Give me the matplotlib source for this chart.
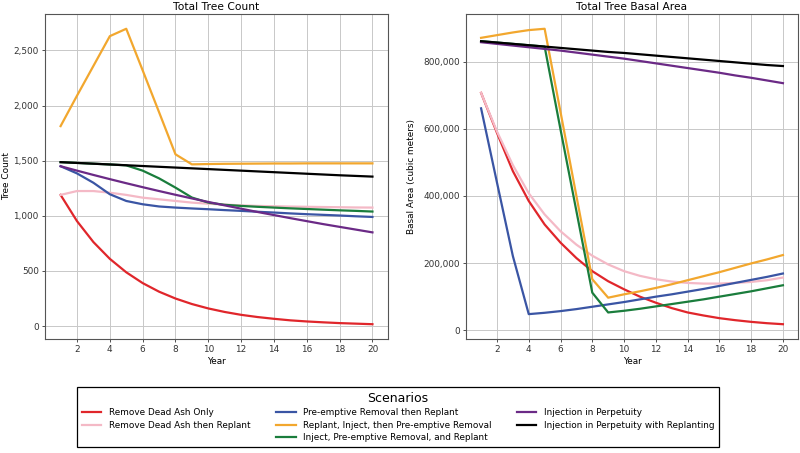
import matplotlib
matplotlib.use('Agg')
import matplotlib.pyplot as plt
from matplotlib.lines import Line2D
from matplotlib.ticker import FuncFormatter

years = list(range(1, 21))

scenarios = ["Remove Dead Ash Only",
             "Remove Dead Ash then Replant",
             "Pre-emptive Removal then Replant",
             "Replant, Inject, then Pre-emptive Removal",
             "Inject, Pre-emptive Removal, and Replant",
             "Injection in Perpetuity",
             "Injection in Perpetuity with Replanting"]
colors = ['#e0262b', '#f4b9c6', '#3a55a4', '#f2a72e', '#1a7d3c', '#6b2a86', '#000000']

# tree counts
count_remove = [1190, 952, 762, 610, 488, 390, 312, 250, 200, 160,
                128, 102, 82, 66, 52, 42, 34, 27, 22, 17]
count_remove_replant = [1190, 1225, 1225, 1210, 1190, 1165, 1150, 1135, 1120, 1110,
                        1102, 1095, 1090, 1087, 1084, 1082, 1080, 1078, 1076, 1075]
count_preempt = [1450, 1385, 1300, 1196, 1135, 1105, 1085, 1075, 1067, 1060,
                 1052, 1045, 1037, 1030, 1022, 1015, 1009, 1003, 996, 990]
count_replant_inject = [1814, 2090, 2360, 2630, 2697, 2320, 1940, 1558, 1467, 1470,
                        1472, 1473, 1474, 1475, 1475, 1476, 1476, 1476, 1476, 1476]
count_inject_preempt = [1487, 1480, 1473, 1466, 1458, 1410, 1340, 1256, 1166, 1120,
                        1100, 1090, 1082, 1075, 1068, 1062, 1056, 1050, 1045, 1039]
count_inject = [1450, 1410, 1371, 1333, 1296, 1260, 1225, 1191, 1158, 1126,
                1095, 1065, 1035, 1007, 979, 952, 925, 900, 875, 850]
count_inject_replant = [1487, 1480, 1473, 1466, 1459, 1452, 1445, 1438, 1431, 1424,
                        1417, 1410, 1403, 1396, 1389, 1382, 1375, 1368, 1362, 1356]

# basal area
ba_remove = [707000, 588000, 474000, 385000, 315000, 261000, 215000, 176000, 146000, 122000,
             100000, 82000, 66000, 53000, 44000, 36000, 30000, 25000, 21000, 18000]
ba_remove_replant = [707000, 592000, 492000, 408000, 345000, 295000, 255000, 222000, 196000, 176000,
                     162000, 152000, 145000, 141000, 139000, 139000, 141000, 144000, 149000, 157000]
ba_preempt = [661000, 440000, 221000, 48000, 52000, 57000, 63000, 70000, 77000, 84000,
              92000, 100000, 107000, 115000, 123000, 132000, 141000, 150000, 159000, 169000]
ba_replant_inject = [871000, 879000, 887000, 894000, 898000, 650000, 400000, 152000, 97000, 107000,
                     116000, 126000, 137000, 149000, 161000, 173000, 186000, 199000, 211000, 224000]
ba_inject_preempt = [861000, 857000, 853000, 849000, 845000, 598000, 355000, 112000, 53000, 58000,
                     64000, 71000, 78000, 85000, 92000, 100000, 108000, 116000, 125000, 134000]
ba_inject = [858000, 853000, 848000, 843000, 838000, 833000, 827000, 821000, 815000, 809000,
             802000, 795000, 788000, 781000, 774000, 767000, 759000, 752000, 744000, 736000]
ba_inject_replant = [861000, 857000, 853000, 849000, 845000, 841000, 837000, 833000, 829000, 826000,
                     822000, 818000, 814000, 810000, 806000, 802000, 798000, 794000, 790000, 787000]

counts = [count_remove, count_remove_replant, count_preempt, count_replant_inject,
          count_inject_preempt, count_inject, count_inject_replant]
basal = [ba_remove, ba_remove_replant, ba_preempt, ba_replant_inject,
         ba_inject_preempt, ba_inject, ba_inject_replant]

fig = plt.figure(figsize=(8, 4.53), dpi=100)
ax1 = fig.add_axes([0.05625, 0.2517, 0.4288, 0.7174])
ax2 = fig.add_axes([0.5825, 0.2517, 0.415, 0.7174])

fmt = FuncFormatter(lambda v, _: f'{v:,.0f}')
for ax, data, title, ylabel, lx in [(ax1, counts, 'Total Tree Count', 'Tree Count', -0.1),
                                    (ax2, basal, 'Total Tree Basal Area', 'Basal Area (cubic meters)', -0.15)]:
    for vals, c, name in zip(data, colors, scenarios):
        ax.plot(years, vals, color=c, lw=1.6, label=name)
    ax.set_title(title, fontsize=7.7, pad=3)
    ax.set_xlabel('Year', fontsize=6.4, labelpad=2)
    ax.set_ylabel(ylabel, fontsize=6.4)
    ax.yaxis.set_label_coords(lx, 0.5)
    ax.set_xticks(range(2, 21, 2))
    ax.yaxis.set_major_formatter(fmt)
    ax.tick_params(labelsize=6.4, length=2.5, width=0.6, pad=2, colors='#333333')
    ax.grid(True, color='#c8c8c8', lw=0.7)
    ax.set_axisbelow(True)
    for s in ax.spines.values():
        s.set_color('#555555')
        s.set_linewidth(0.8)

# legend: 3 columns, with blanks to get 2/3/2 layout
h = [Line2D([], [], color=c, lw=1.6) for c in colors]
blank = Line2D([], [], color='none')
handles = [h[0], h[1], blank, h[2], h[3], h[4], h[5], h[6], blank]
labels = [scenarios[0], scenarios[1], '', scenarios[2], scenarios[3], scenarios[4],
          scenarios[5], scenarios[6], '']
leg = fig.legend(handles, labels, ncol=3, loc='center', bbox_to_anchor=(398 / 800, 1 - 417 / 453),
                 title='Scenarios', fontsize=6.4, title_fontsize=9, fancybox=False,
                 edgecolor='black', framealpha=1, handlelength=2.2, columnspacing=2.9,
                 labelspacing=0.4, borderpad=0.55)
leg.get_frame().set_linewidth(0.9)

fig.savefig('out.png', dpi=100)
